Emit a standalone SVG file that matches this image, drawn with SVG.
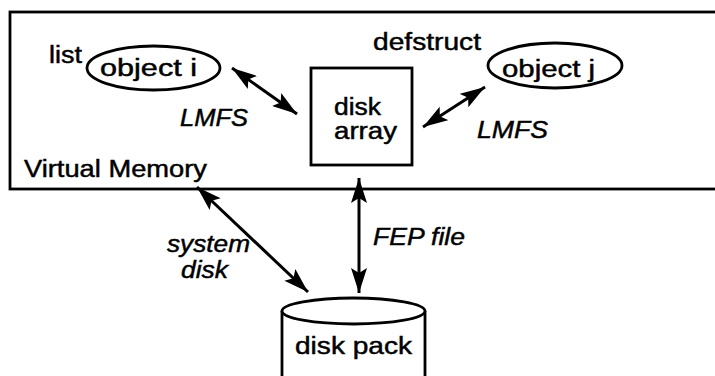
<svg xmlns="http://www.w3.org/2000/svg" width="715" height="376" viewBox="0 0 715 376">
<style>
  .shape { fill: #fff; stroke: #000; stroke-width: 2.8; }
  .conn { stroke: #000; stroke-width: 3; fill: none; marker-start: url(#ah); marker-end: url(#ah); }
  text { font-family: "Liberation Sans", Arial, sans-serif; font-size: 23px; fill: #000; stroke: #000; stroke-width: 0.45; }
  .it { font-style: italic; }
</style>
<defs>
  <marker id="ah" viewBox="0 0 25 16" refX="25" refY="8" markerWidth="25" markerHeight="16" orient="auto-start-reverse" markerUnits="userSpaceOnUse">
    <path d="M0,0 L25,8 L0,16 L5,8 Z" fill="#000"/>
  </marker>
</defs>
<rect width="715" height="376" fill="#fff"/>

<g id="virtual-memory">
  <rect class="shape" x="10" y="12" width="720" height="177"/>
  <text x="24" y="177" textLength="183" lengthAdjust="spacingAndGlyphs">Virtual Memory</text>
</g>

<g id="object-i">
  <ellipse class="shape" cx="153.5" cy="68" rx="66.5" ry="22"/>
  <text x="100" y="76" textLength="97" lengthAdjust="spacingAndGlyphs">object i</text>
  <text x="49" y="63" textLength="33" lengthAdjust="spacingAndGlyphs">list</text>
</g>

<g id="disk-array">
  <rect class="shape" x="311" y="68" width="101" height="97"/>
  <text x="334" y="115" textLength="47" lengthAdjust="spacingAndGlyphs">disk</text>
  <text x="334" y="139" textLength="63" lengthAdjust="spacingAndGlyphs">array</text>
</g>

<g id="object-j">
  <ellipse class="shape" cx="555" cy="65.5" rx="67" ry="22.5"/>
  <text x="502" y="77" textLength="93" lengthAdjust="spacingAndGlyphs">object j</text>
  <text x="373" y="50" textLength="108" lengthAdjust="spacingAndGlyphs">defstruct</text>
</g>

<g id="disk-pack">
  <path class="shape" d="M282,311 L282,380 L425,380 L425,311"/>
  <ellipse class="shape" cx="353.5" cy="311" rx="71.5" ry="13"/>
  <text x="295" y="354" textLength="117" lengthAdjust="spacingAndGlyphs">disk pack</text>
</g>

<g id="connectors">
  <line class="conn" x1="232" y1="68" x2="297" y2="114"/>
  <line class="conn" x1="423" y1="127" x2="485" y2="87"/>
  <line class="conn" x1="197" y1="187" x2="308" y2="292"/>
  <line class="conn" x1="359" y1="178" x2="359" y2="293"/>
  <text class="it" x="180" y="126" textLength="68" lengthAdjust="spacingAndGlyphs">LMFS</text>
  <text class="it" x="477" y="138" textLength="71" lengthAdjust="spacingAndGlyphs">LMFS</text>
  <text class="it" x="167" y="252" textLength="83" lengthAdjust="spacingAndGlyphs">system</text>
  <text class="it" x="181" y="278" textLength="47" lengthAdjust="spacingAndGlyphs">disk</text>
  <text class="it" x="373" y="245" textLength="92" lengthAdjust="spacingAndGlyphs">FEP file</text>
</g>
</svg>
